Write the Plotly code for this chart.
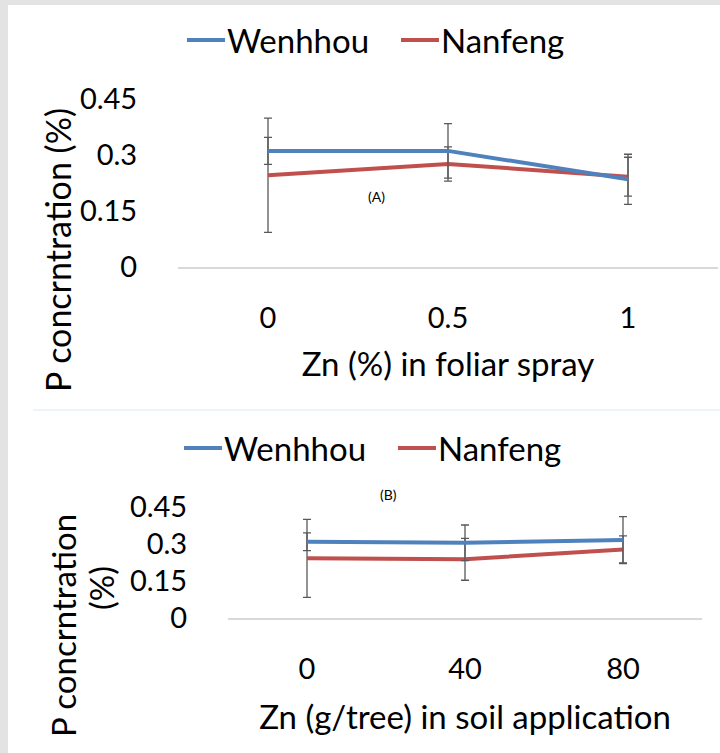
import plotly.graph_objects as go

# ---- data ----
foliar_levels = ["0", "0.5", "1"]
foliar_wenhhou = [0.311, 0.311, 0.235]
foliar_wenhhou_err = [0.036, 0.073, 0.067]
foliar_nanfeng = [0.246, 0.276, 0.242]
foliar_nanfeng_err = [0.153, 0.046, 0.052]

soil_levels = ["0", "40", "80"]
soil_wenhhou = [0.309, 0.305, 0.316]
soil_wenhhou_err = [0.036, 0.072, 0.095]
soil_nanfeng = [0.242, 0.238, 0.278]
soil_nanfeng_err = [0.158, 0.085, 0.055]

y_ticks = [0, 0.15, 0.3, 0.45]
y_tick_text = ["0", "0.15", "0.3", "0.45"]

BLUE = "#4F81BD"
RED = "#C0504D"
ERR = "#595959"
FONT = "Lato"
W, H = 720, 753


def px(x):
    return x / W


def py(y):
    return 1 - y / H


fig = go.Figure()


def add_series(xs, ys, errs, color, xa, ya):
    fig.add_trace(go.Scatter(
        x=xs, y=ys, mode="lines", xaxis=xa, yaxis=ya,
        line=dict(color=color, width=4),
        error_y=dict(type="data", array=errs, visible=True, color=ERR,
                     thickness=1.3, width=4),
        showlegend=False, hoverinfo="skip"))


add_series(foliar_levels, foliar_nanfeng, foliar_nanfeng_err, RED, "x", "y")
add_series(foliar_levels, foliar_wenhhou, foliar_wenhhou_err, BLUE, "x", "y")
add_series(soil_levels, soil_nanfeng, soil_nanfeng_err, RED, "x2", "y2")
add_series(soil_levels, soil_wenhhou, soil_wenhhou_err, BLUE, "x2", "y2")

tickfont = dict(family=FONT, size=29, color="#000000")
titlefont = dict(family=FONT, size=33, color="#000000")

xcommon = dict(type="category", range=[-0.5, 2.5], showline=True,
               linecolor="#d9d9d9", linewidth=1.5, showgrid=False,
               zeroline=False, ticks="outside", ticklen=24,
               tickcolor="rgba(0,0,0,0)", tickfont=tickfont, automargin=False)
ycommon = dict(range=[0, 0.45], showgrid=False, zeroline=False,
               showline=False, tickvals=y_ticks, ticktext=y_tick_text,
               ticks="outside", ticklen=34, tickcolor="rgba(0,0,0,0)",
               tickfont=tickfont, automargin=False)

fig.update_layout(
    template="none",
    width=W, height=H,
    margin=dict(l=0, r=0, t=0, b=0, autoexpand=False),
    paper_bgcolor="white", plot_bgcolor="white",
    xaxis=dict(domain=[px(178), px(718)], anchor="y",
               title=dict(text="Zn (%) in foliar spray", font=titlefont, standoff=20),
               **xcommon),
    yaxis=dict(domain=[py(267), py(99)], anchor="x", **ycommon),
    xaxis2=dict(domain=[px(228), px(702)], anchor="y2",
                title=dict(text="Zn (g/tree) in soil application", font=titlefont, standoff=22),
                **xcommon),
    yaxis2=dict(domain=[py(618), py(507)], anchor="x2", **ycommon),
)

shapes = [
    # grey frame strips
    dict(type="rect", xref="paper", yref="paper", x0=0, x1=px(8), y0=0, y1=1,
         fillcolor="#e3e3e3", line=dict(width=0), layer="below"),
    dict(type="rect", xref="paper", yref="paper", x0=0, x1=1, y0=py(5), y1=1,
         fillcolor="#e3e3e3", line=dict(width=0), layer="below"),
    # separator between panels
    dict(type="line", xref="paper", yref="paper", x0=px(33), x1=1,
         y0=py(410), y1=py(410), line=dict(color="#e8f0fa", width=1.5)),
]

annotations = []


def legend(x0, yc, x1):
    for xs, color, name in ((x0, BLUE, "Wenhhou"), (x1, RED, "Nanfeng")):
        shapes.append(dict(type="line", xref="paper", yref="paper",
                           x0=px(xs), x1=px(xs + 38), y0=py(yc), y1=py(yc),
                           line=dict(color=color, width=4)))
        annotations.append(dict(xref="paper", yref="paper", x=px(xs + 38),
                                y=py(yc), text=name, showarrow=False,
                                xanchor="left", yanchor="middle",
                                font=dict(family=FONT, size=33, color="#000000")))


legend(187, 40, 401)
legend(184, 448, 398)

annotations += [
    dict(xref="paper", yref="paper", x=px(376), y=py(196), text="(A)",
         showarrow=False, xanchor="center", yanchor="middle",
         font=dict(family=FONT, size=14, color="#000000")),
    dict(xref="paper", yref="paper", x=px(388), y=py(494), text="(B)",
         showarrow=False, xanchor="center", yanchor="middle",
         font=dict(family=FONT, size=14, color="#000000")),
    dict(xref="paper", yref="paper", x=px(58), y=py(250),
         text="P concrntration (%)", textangle=-90, showarrow=False,
         xanchor="center", yanchor="middle",
         font=dict(family=FONT, size=34, color="#000000")),
    dict(xref="paper", yref="paper", x=px(63), y=py(625),
         text="P concrntration", textangle=-90, showarrow=False,
         xanchor="center", yanchor="middle", font=titlefont),
    dict(xref="paper", yref="paper", x=px(101), y=py(588),
         text="(%)", textangle=-90, showarrow=False,
         xanchor="center", yanchor="middle", font=titlefont),
]

fig.update_layout(shapes=shapes, annotations=annotations)
fig.write_html("out.html")
